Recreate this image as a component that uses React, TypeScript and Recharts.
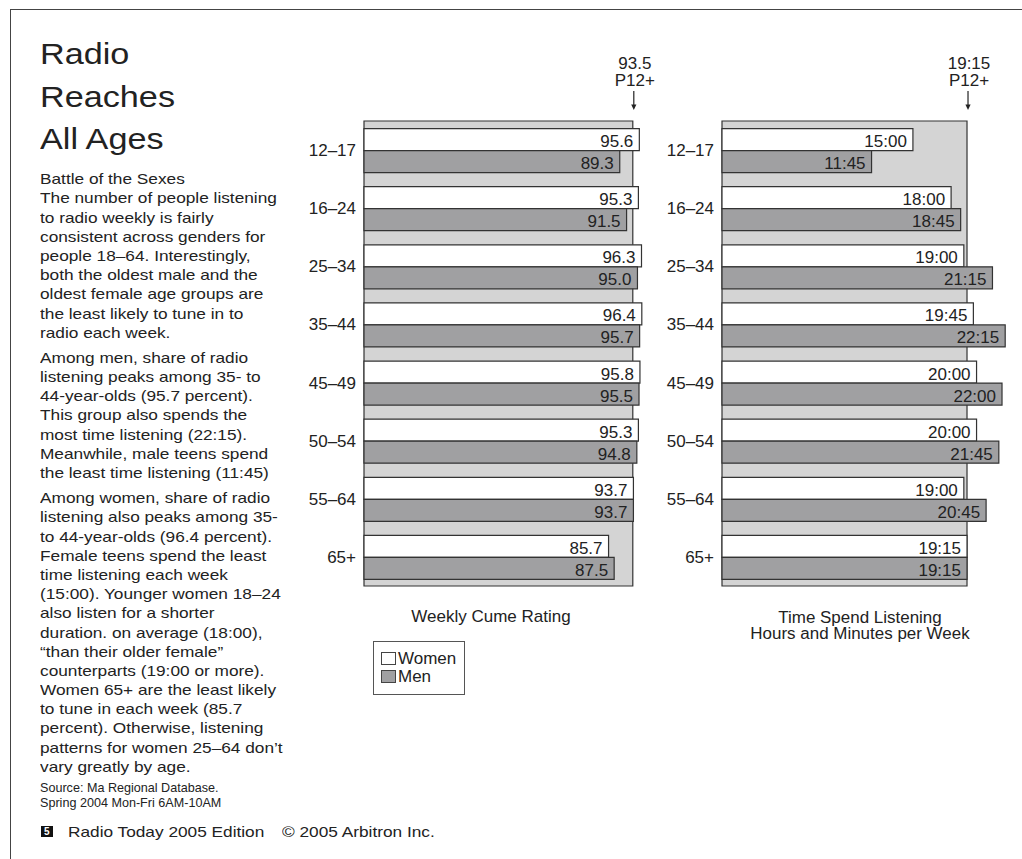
import React from 'react';
import { BarChart, Bar, XAxis, YAxis, ReferenceArea, LabelList, Legend } from 'recharts';

const FONT = '"Liberation Sans", Arial, Helvetica, sans-serif';
const INK = '#222';

// ---- data ----
const ageGroups = ['12–17', '16–24', '25–34', '35–44', '45–49', '50–54', '55–64', '65+'];
const cumeWomen = [95.6, 95.3, 96.3, 96.4, 95.8, 95.3, 93.7, 85.7];
const cumeMen = [89.3, 91.5, 95.0, 95.7, 95.5, 94.8, 93.7, 87.5];
const cumeP12 = 93.5;
const tslWomen = ['15:00', '18:00', '19:00', '19:45', '20:00', '20:00', '19:00', '19:15'];
const tslMen = ['11:45', '18:45', '21:15', '22:15', '22:00', '21:45', '20:45', '19:15'];
const tslP12 = '19:15';
const seriesOrder = ['women', 'men'];

const toMinutes = (s: string) => {
  const [h, m] = s.split(':').map(Number);
  return h * 60 + m;
};
const fmtTime = (v: number) => `${Math.floor(v / 60)}:${String(v % 60).padStart(2, '0')}`;

const cumeData = ageGroups.map((age, i) => ({ age, women: cumeWomen[i], men: cumeMen[i] }));
const tslData = ageGroups.map((age, i) => ({ age, women: toMinutes(tslWomen[i]), men: toMinutes(tslMen[i]) }));

// ---- text ----
const titleLines = ['Radio', 'Reaches', 'All Ages'];
const para1 = [
  'Battle of the Sexes',
  'The number of people listening',
  'to radio weekly is fairly',
  'consistent across genders for',
  'people 18–64. Interestingly,',
  'both the oldest male and the',
  'oldest female age groups are',
  'the least likely to tune in to',
  'radio each week.',
];
const para2 = [
  'Among men, share of radio',
  'listening peaks among 35- to',
  '44-year-olds (95.7 percent).',
  'This group also spends the',
  'most time listening (22:15).',
  'Meanwhile, male teens spend',
  'the least time listening (11:45)',
];
const para3 = [
  'Among women, share of radio',
  'listening also peaks among 35-',
  'to 44-year-olds (96.4 percent).',
  'Female teens spend the least',
  'time listening each week',
  '(15:00). Younger women 18–24',
  'also listen for a shorter',
  'duration. on average (18:00),',
  '“than their older female”',
  'counterparts (19:00 or more).',
  'Women 65+ are the least likely',
  'to tune in each week (85.7',
  'percent). Otherwise, listening',
  'patterns for women 25–64 don’t',
  'vary greatly by age.',
];
const sourceLines = ['Source: Ma Regional Database.', 'Spring 2004 Mon-Fri 6AM-10AM'];

const WOMEN_FILL = '#ffffff';
const MEN_FILL = '#a0a0a2';
const BG_FILL = '#d4d4d4';
const STROKE = '#333';

const makeValueLabel = (fmt: (v: number) => string) => (props: any) => {
  const { x, y, width, height, value } = props;
  return (
    <text
      x={Number(x) + Number(width) - 6}
      y={Number(y) + Number(height) - 3.5}
      textAnchor="end"
      fontSize={17}
      fill={INK}
      fontFamily={FONT}
    >
      {fmt(Number(value))}
    </text>
  );
};

const makeP12Marker = (text: string) => (props: any) => {
  const vb = props.viewBox || {};
  const cx = vb.x + vb.width + 1;
  const y = vb.y;
  return (
    <g>
      <text x={cx + 1} y={y - 52} textAnchor="middle" fontSize={17} fill={INK} fontFamily={FONT}>
        {text}
      </text>
      <text x={cx + 1} y={y - 35} textAnchor="middle" fontSize={17} fill={INK} fontFamily={FONT}>
        P12+
      </text>
      <line x1={cx} y1={y - 30} x2={cx} y2={y - 15} stroke={INK} strokeWidth={1.2} />
      <path d={`M${cx - 2.6},${y - 16.5} L${cx + 2.6},${y - 16.5} L${cx},${y - 11} Z`} fill={INK} />
    </g>
  );
};

const renderLegend = (props: any) => {
  const payload = [...(props.payload || [])].sort(
    (a: any, b: any) => seriesOrder.indexOf(String(a.dataKey)) - seriesOrder.indexOf(String(b.dataKey))
  );
  return (
    <div
      style={{
        position: 'relative',
        width: 92,
        height: 54,
        border: '1px solid #555',
        boxSizing: 'border-box',
        background: '#fff',
        fontFamily: FONT,
        fontSize: 17,
        color: INK,
      }}
    >
      {payload.map((entry: any, i: number) => (
        <div key={i} style={{ position: 'absolute', left: 0, top: 8.1 + i * 18, height: 18, lineHeight: '18px', whiteSpace: 'nowrap' }}>
          <span
            style={{
              position: 'absolute',
              left: 7,
              top: 2,
              width: 15,
              height: 13,
              boxSizing: 'border-box',
              border: '1px solid #444',
              background: entry.color,
            }}
          />
          <span style={{ position: 'absolute', left: 24.5, top: 0 }}>{entry.value}</span>
        </div>
      ))}
    </div>
  );
};

const tickStyle = { fontSize: 17, fill: INK, fontFamily: FONT };

const Line = ({ children, h }: { children: React.ReactNode; h: number }) => (
  <div style={{ height: h, lineHeight: `${h}px`, whiteSpace: 'nowrap' }}>{children}</div>
);

export default function App() {
  return (
    <div
      style={{
        position: 'absolute',
        left: 0,
        top: 0,
        width: 1022,
        height: 859,
        overflow: 'hidden',
        background: '#fff',
        fontFamily: FONT,
        color: INK,
      }}
    >
      {/* frame */}
      <div
        style={{
          position: 'absolute',
          left: 10,
          top: 9,
          width: 1100,
          height: 900,
          borderTop: '1.5px solid #444',
          borderLeft: '1.5px solid #444',
        }}
      />

      {/* title */}
      <div
        style={{
          position: 'absolute',
          left: 39.5,
          top: 33.4,
          fontSize: 30,
          transform: 'scaleX(1.14)',
          transformOrigin: 'left top',
        }}
      >
        {titleLines.map((t) => (
          <Line key={t} h={42.5}>
            {t}
          </Line>
        ))}
      </div>

      {/* body text */}
      <div
        style={{
          position: 'absolute',
          left: 39.5,
          top: 169.2,
          fontSize: 15,
          transform: 'scaleX(1.15)',
          transformOrigin: 'left top',
        }}
      >
        {[para1, para2, para3].map((p, pi) => (
          <div key={pi} style={{ marginBottom: 6 }}>
            {p.map((t, i) => (
              <Line key={i} h={19.2}>
                {t}
              </Line>
            ))}
          </div>
        ))}
      </div>

      {/* source */}
      <div style={{ position: 'absolute', left: 40, top: 781.1, fontSize: 12.6 }}>
        {sourceLines.map((t) => (
          <Line key={t} h={15}>
            {t}
          </Line>
        ))}
      </div>

      {/* footer */}
      <div
        style={{
          position: 'absolute',
          left: 41,
          top: 826,
          width: 11.5,
          height: 11,
          background: '#111',
          color: '#fff',
          fontSize: 10,
          fontWeight: 'bold',
          lineHeight: '11px',
          textAlign: 'center',
        }}
      >
        5
      </div>
      <div
        style={{
          position: 'absolute',
          left: 67.8,
          top: 822.5,
          fontSize: 15,
          lineHeight: '18px',
          whiteSpace: 'nowrap',
          transform: 'scaleX(1.15)',
          transformOrigin: 'left top',
        }}
      >
        Radio Today 2005 Edition
      </div>
      <div
        style={{
          position: 'absolute',
          left: 282,
          top: 822.5,
          fontSize: 15,
          lineHeight: '18px',
          whiteSpace: 'nowrap',
          transform: 'scaleX(1.15)',
          transformOrigin: 'left top',
        }}
      >
        © 2005 Arbitron Inc.
      </div>

      {/* left chart: Weekly Cume Rating */}
      <div style={{ position: 'absolute', left: 300, top: 40 }}>
        <BarChart
          width={360}
          height={680}
          data={cumeData}
          layout="vertical"
          margin={{ top: 81, right: 7, bottom: 134, left: 4 }}
          barGap={0}
          barCategoryGap="13%"
          style={{ fontFamily: FONT }}
        >
          <XAxis type="number" domain={[7, 100]} hide />
          <YAxis
            type="category"
            dataKey="age"
            width={60}
            axisLine={false}
            tickLine={false}
            interval={0}
            tick={tickStyle}
          />
          <ReferenceArea
            x1={7}
            x2={cumeP12}
            fill={BG_FILL}
            fillOpacity={1}
            stroke={STROKE}
            strokeWidth={1.2}
            label={makeP12Marker(cumeP12.toFixed(1))}
          />
          <Bar dataKey="women" name="Women" fill={WOMEN_FILL} stroke={STROKE} strokeWidth={1.2} isAnimationActive={false}>
            <LabelList dataKey="women" content={makeValueLabel((v) => v.toFixed(1))} />
          </Bar>
          <Bar dataKey="men" name="Men" fill={MEN_FILL} stroke={STROKE} strokeWidth={1.2} isAnimationActive={false}>
            <LabelList dataKey="men" content={makeValueLabel((v) => v.toFixed(1))} />
          </Bar>
          <Legend
            layout="vertical"
            align="center"
            verticalAlign="middle"
            wrapperStyle={{ left: 72.5, top: 600.5, width: 92, height: 54 }}
            content={renderLegend}
          />
        </BarChart>
      </div>
      <div
        style={{
          position: 'absolute',
          left: 391,
          top: 608.4,
          width: 200,
          textAlign: 'center',
          fontSize: 17,
          lineHeight: '18px',
          whiteSpace: 'nowrap',
        }}
      >
        Weekly Cume Rating
      </div>

      {/* right chart: Time Spent Listening */}
      <div style={{ position: 'absolute', left: 660, top: 40 }}>
        <BarChart
          width={362}
          height={560}
          data={tslData}
          layout="vertical"
          margin={{ top: 81, right: 11.5, bottom: 14, left: 2 }}
          barGap={0}
          barCategoryGap="13%"
          style={{ fontFamily: FONT }}
        >
          <XAxis type="number" domain={[0, 1360]} hide />
          <YAxis
            type="category"
            dataKey="age"
            width={60}
            axisLine={false}
            tickLine={false}
            interval={0}
            tick={tickStyle}
          />
          <ReferenceArea
            x1={0}
            x2={toMinutes(tslP12)}
            fill={BG_FILL}
            fillOpacity={1}
            stroke={STROKE}
            strokeWidth={1.2}
            label={makeP12Marker(tslP12)}
          />
          <Bar dataKey="women" name="Women" fill={WOMEN_FILL} stroke={STROKE} strokeWidth={1.2} isAnimationActive={false}>
            <LabelList dataKey="women" content={makeValueLabel(fmtTime)} />
          </Bar>
          <Bar dataKey="men" name="Men" fill={MEN_FILL} stroke={STROKE} strokeWidth={1.2} isAnimationActive={false}>
            <LabelList dataKey="men" content={makeValueLabel(fmtTime)} />
          </Bar>
        </BarChart>
      </div>
      <div
        style={{
          position: 'absolute',
          left: 709.6,
          top: 609.9,
          width: 300,
          textAlign: 'center',
          fontSize: 16,
          lineHeight: '16px',
          whiteSpace: 'nowrap',
          transform: 'scaleX(1.06)',
          transformOrigin: '150px 0',
        }}
      >
        <div>Time Spend Listening</div>
        <div>Hours and Minutes per Week</div>
      </div>
    </div>
  );
}
